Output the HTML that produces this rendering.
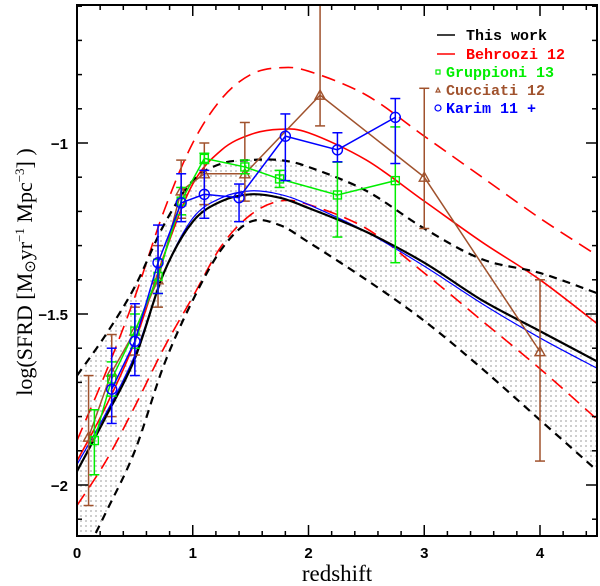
<!DOCTYPE html>
<html><head><meta charset="utf-8"><style>
body{margin:0;background:#fff}
svg{display:block}
</style></head><body>
<svg id="chart" width="600" height="586" viewBox="0 0 600 586" xmlns="http://www.w3.org/2000/svg" style="font-family:'Liberation Sans',sans-serif">
<defs>
<pattern id="dots" width="5" height="5" patternUnits="userSpaceOnUse"><circle cx="1" cy="1" r="0.6" fill="#555"/></pattern>
<clipPath id="clip"><rect x="77" y="5" width="520" height="531"/></clipPath>
</defs>
<g id="plot" clip-path="url(#clip)"></g>
<g id="axes"></g>
<text x="337" y="581" text-anchor="middle" font-size="23" style="font-family:'Liberation Serif',serif">redshift</text>
<text transform="translate(32,272) rotate(-90)" text-anchor="middle" font-size="22" style="font-family:'Liberation Serif',serif">log(SFRD  [M<tspan font-size="15" dy="3">⊙</tspan><tspan dy="-3">yr</tspan><tspan font-size="13" dy="-8">−1</tspan><tspan dy="8"> Mpc</tspan><tspan font-size="13" dy="-8">−3</tspan><tspan dy="8">] )</tspan></text>
<g font-weight="bold" font-size="15" style="font-family:'Liberation Mono',monospace">
<line x1="437" y1="35" x2="455" y2="35" stroke="#000" stroke-width="1.5"/><text x="466" y="40" fill="#000">This work</text>
<line x1="437" y1="54" x2="455" y2="54" stroke="#f00" stroke-width="1.5"/><text x="466" y="59" fill="#f00">Behroozi 12</text>
<rect x="436" y="70" width="4" height="4" fill="none" stroke="#0e0" stroke-width="1.2"/><text x="446" y="77" fill="#0e0">Gruppioni 13</text>
<path d="M436,92 L438,88 L440,92 Z" fill="none" stroke="#a0522d" stroke-width="1.2"/><text x="446" y="95" fill="#a0522d">Cucciati 12</text>
<circle cx="438" cy="108" r="3" fill="none" stroke="#00f" stroke-width="1.2"/><text x="446" y="113" fill="#00f">Karim 11 +</text>
</g>
</svg>
<script>
const gridZ=[0,0.25,0.5,0.75,1,1.25,1.5,1.75,2,2.5,3,3.5,4,4.5];
const thisWork=[-1.96,-1.80,-1.63,-1.38,-1.23,-1.17,-1.15,-1.16,-1.19,-1.26,-1.35,-1.46,-1.55,-1.64];
const thisWorkUpper=[-1.68,-1.56,-1.42,-1.24,-1.11,-1.06,-1.05,-1.05,-1.07,-1.14,-1.25,-1.34,-1.38,-1.44];
const thisWorkLower=[-2.25,-2.08,-1.90,-1.65,-1.46,-1.31,-1.23,-1.24,-1.29,-1.40,-1.52,-1.66,-1.81,-1.96];
const karimFit=[-1.94,-1.79,-1.62,-1.38,-1.22,-1.16,-1.14,-1.15,-1.18,-1.26,-1.36,-1.47,-1.57,-1.66];
const behroozi=[-1.93,-1.77,-1.58,-1.33,-1.12,-1.02,-0.975,-0.96,-0.97,-1.05,-1.17,-1.29,-1.40,-1.53];
const behrooziUpper=[-1.87,-1.67,-1.45,-1.20,-1.00,-0.87,-0.80,-0.78,-0.79,-0.86,-0.98,-1.10,-1.22,-1.33];
const behrooziLower=[-2.06,-1.93,-1.77,-1.60,-1.45,-1.30,-1.21,-1.17,-1.18,-1.25,-1.38,-1.52,-1.66,-1.81];
const grupZ=[0.15,0.3,0.5,0.7,0.9,1.1,1.45,1.75,2.25,2.75];
const grupV=[-1.87,-1.69,-1.55,-1.39,-1.17,-1.045,-1.07,-1.105,-1.152,-1.11];
const grupHi=[-1.78,-1.64,-1.50,-1.34,-1.13,-1.03,-1.05,-1.08,-1.056,-0.953];
const grupLo=[-1.97,-1.74,-1.60,-1.44,-1.21,-1.06,-1.09,-1.13,-1.275,-1.35];
const cucZ=[0.1,0.3,0.5,0.7,0.9,1.1,1.45,2.1,3,4];
const cucV=[-1.86,-1.67,-1.55,-1.40,-1.14,-1.09,-1.09,-0.86,-1.10,-1.61];
const cucHi=[-1.68,-1.56,-1.48,-1.30,-1.05,-1.00,-0.94,-0.55,-0.84,-1.40];
const cucLo=[-2.06,-1.80,-1.62,-1.48,-1.22,-1.18,-1.17,-0.95,-1.25,-1.93];
const karZ=[0.3,0.5,0.7,0.9,1.1,1.4,1.8,2.25,2.75];
const karV=[-1.72,-1.58,-1.35,-1.175,-1.15,-1.16,-0.98,-1.02,-0.925];
const karHi=[-1.60,-1.47,-1.24,-1.09,-1.08,-1.12,-0.915,-0.97,-0.87];
const karLo=[-1.82,-1.68,-1.44,-1.23,-1.22,-1.23,-1.11,-1.055,-1.06];
const xTicks=[0,1,2,3,4];
const yTicks=[-2,-1.5,-1];

const NS='http://www.w3.org/2000/svg';
const X=z=>77+z*115.75;
const Y=v=>485-(v+2)*342;
const plot=document.getElementById('plot'),axes=document.getElementById('axes');
function mk(tag,attrs,parent){const e=document.createElementNS(NS,tag);for(const k in attrs)e.setAttribute(k,attrs[k]);parent.appendChild(e);return e;}
function smoothPts(zs,vs){const p=zs.map((z,i)=>[X(z),Y(vs[i])]);let d='M'+p[0][0]+','+p[0][1];
for(let i=0;i<p.length-1;i++){const p0=p[i-1]||p[i],p1=p[i],p2=p[i+1],p3=p[i+2]||p2;
d+=' C'+(p1[0]+(p2[0]-p0[0])/6)+','+(p1[1]+(p2[1]-p0[1])/6)+' '+(p2[0]-(p3[0]-p1[0])/6)+','+(p2[1]-(p3[1]-p1[1])/6)+' '+p2[0]+','+p2[1];}return d;}
function revSmooth(zs,vs){return smoothPts(zs.slice().reverse(),vs.slice().reverse()).replace('M','L');}
let band=mk('path',{d:smoothPts(gridZ,thisWorkUpper)+' '+revSmooth(gridZ,thisWorkLower)+' Z',fill:'url(#dots)',stroke:'none'},plot);


function curve(vs,color,w,dash,name){const e=mk('path',{d:smoothPts(gridZ,vs),fill:'none',stroke:color,'stroke-width':w},plot);if(dash)e.setAttribute('stroke-dasharray',dash);

}
curve(behrooziUpper,'#f00',1.6,'14,8','behroozi-upper');
curve(behrooziLower,'#f00',1.6,'14,8','behroozi-lower');
curve(behroozi,'#f00',1.6,null,'behroozi-curve');
curve(thisWorkUpper,'#000',2.2,'8,6','this-work-upper');
curve(thisWorkLower,'#000',2.2,'8,6','this-work-lower');
curve(karimFit,'#00f',1.2,null,'karim-fit');
curve(thisWork,'#000',2.2,null,'this-work-curve');
function series(zs,vs,hi,lo,color,marker,name){
const g=mk('g',{},plot);


mk('polyline',{points:zs.map((z,i)=>X(z)+','+Y(vs[i])).join(' '),fill:'none',stroke:color,'stroke-width':1.5},g);
zs.forEach((z,i)=>{const x=X(z);
mk('line',{x1:x,x2:x,y1:Y(hi[i]),y2:Y(lo[i]),stroke:color,'stroke-width':1.5},g);
mk('line',{x1:x-5,x2:x+5,y1:Y(hi[i]),y2:Y(hi[i]),stroke:color,'stroke-width':1.5},g);
mk('line',{x1:x-5,x2:x+5,y1:Y(lo[i]),y2:Y(lo[i]),stroke:color,'stroke-width':1.5},g);
const y=Y(vs[i]);
if(marker==='sq')mk('rect',{x:x-4,y:y-4,width:8,height:8,fill:'none',stroke:color,'stroke-width':1.4},g);
else if(marker==='tri')mk('path',{d:`M${x-5},${y+4} L${x},${y-5} L${x+5},${y+4} Z`,fill:'none',stroke:color,'stroke-width':1.4},g);
else mk('circle',{cx:x,cy:y,r:5,fill:'none',stroke:color,'stroke-width':1.4},g);});}
series(cucZ,cucV,cucHi,cucLo,'#a0522d','tri','cucciati-series');
series(grupZ,grupV,grupHi,grupLo,'#0e0','sq','gruppioni-series');
series(karZ,karV,karHi,karLo,'#00f','circ','karim-series');
const fr=mk('rect',{x:77,y:5,width:520,height:531,fill:'none',stroke:'#000','stroke-width':2},axes);


for(let k=0;k<=22;k++){const z=k*0.2;const x=X(z);const maj=k%5===0;const L=maj?11:5;
mk('line',{x1:x,x2:x,y1:536,y2:536-L,stroke:'#000','stroke-width':1.5},axes);
mk('line',{x1:x,x2:x,y1:5,y2:5+L,stroke:'#000','stroke-width':1.5},axes);}
xTicks.forEach(t=>{const e=mk('text',{x:X(t),y:558,'text-anchor':'middle','font-size':15,'font-weight':'bold'},axes);e.textContent=String(t);

});
for(let k=-21;k<=-6;k++){const v=k/10;const y=Y(v);const maj=k%5===0;const L=maj?11:5;
mk('line',{x1:77,x2:77+L,y1:y,y2:y,stroke:'#000','stroke-width':1.5},axes);
mk('line',{x1:597,x2:597-L,y1:y,y2:y,stroke:'#000','stroke-width':1.5},axes);}
yTicks.forEach(t=>{const e=mk('text',{x:68,y:Y(t)+6,'text-anchor':'end','font-size':15,'font-weight':'bold'},axes);e.textContent=String(t).replace('-','−');

});
</script>
</body></html>
